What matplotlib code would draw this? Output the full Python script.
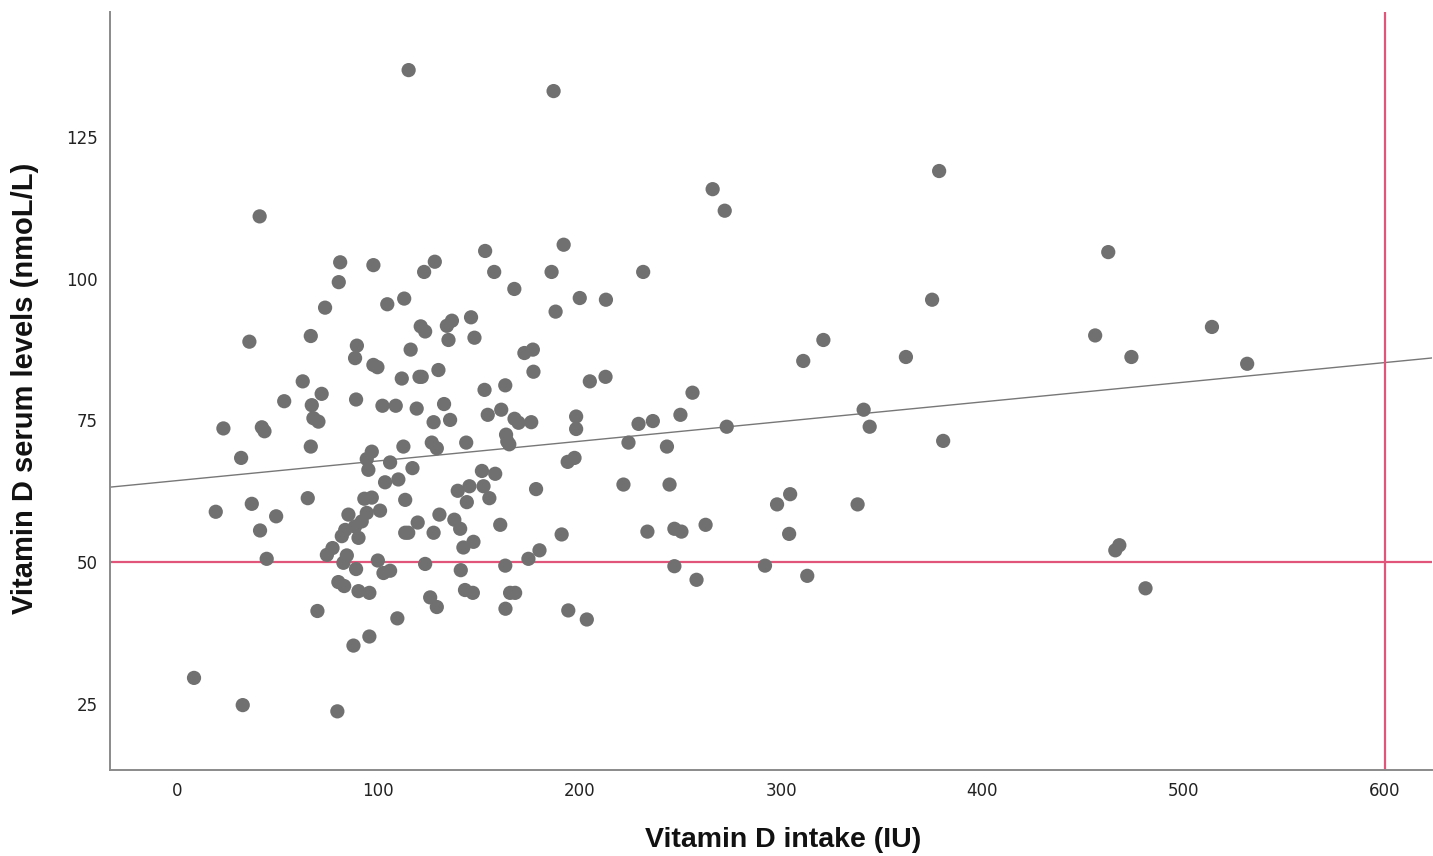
import matplotlib
matplotlib.use("Agg")
import matplotlib.pyplot as plt

# vitamin D intake (IU) vs serum level (nmol/L)
intake = [
    8.4, 32.6, 19.2, 23, 31.8, 35.9, 37.1, 41, 42.1, 43.4, 41.2, 44.5, 49.2, 53.2,
    62.4, 64.9, 66.4, 66.4, 66.9, 67.7, 70.2, 69.7, 71.8, 73.5, 74.4, 77.2,
    79.6, 80.3, 81, 80.1, 83, 81.8, 83.5, 84.3, 82.6, 85.1, 87.6, 88.4, 89.3,
    88.4, 88.9, 88.9, 90.1, 90.1, 91.7, 93, 94.2, 94.2, 95, 95.5, 95.5, 96.7,
    96.7, 97.5, 97.5, 99.5, 99.7,
    100.8, 102, 102.5, 103.3, 104.4, 105.8, 105.8, 108.6, 109.4, 109.9, 111.6,
    112.4, 112.8, 113.3, 113.3, 114.8, 115, 116, 116.9, 119, 119.5, 120.4,
    121.5, 121, 123.2, 122.7, 123.2, 125.7, 126.5, 127.4, 127.4, 128, 129,
    129, 129.8, 130.3,
    132.6, 134, 136.5, 134.8, 135.6, 137.7, 139.4, 140.6, 140.9, 142.2, 143,
    143.6, 143.9, 145.2, 146, 146.9, 147.2, 147.7, 151.4, 152.2, 152.7, 153,
    154.3, 155.1, 157.5, 158,
    160.5, 161, 163, 163, 163.1, 163.4, 164, 165, 165.4, 167.9, 167.5, 167.6,
    169.6, 172.5, 174.5, 175.9, 176.7, 177, 178.3, 180, 186, 187, 188, 191,
    192, 194, 194.3, 197.4, 198.2, 198.2,
    200, 203.5, 205, 212.8, 213, 221.7, 224.2, 229.2, 231.5, 233.6, 236.3,
    243.3, 244.6, 247, 250.5, 247, 250,
    256, 258, 262.5, 266, 272, 273, 292, 298,
    304, 304.5, 311, 313, 321, 338, 341, 344, 362, 375, 378.5, 380.5, 456,
    462.5, 466, 468, 474, 481, 514, 531.5,
]
serum = [
    29.6, 24.8, 58.9, 73.6, 68.4, 88.9, 60.3, 111, 73.8, 73.1, 55.6, 50.6, 58.1, 78.4,
    81.9, 61.3, 89.9, 70.4, 77.7, 75.4, 74.8, 41.4, 79.7, 94.9, 51.3, 52.5,
    23.7, 99.4, 102.9, 46.5, 45.8, 54.6, 55.7, 51.2, 49.9, 58.4, 35.3, 56.3, 88.2,
    86, 78.7, 48.8, 54.3, 44.9, 57.2, 61.2, 58.7, 68.2, 66.3, 44.6, 36.9, 61.4,
    69.5, 102.4, 84.8, 84.4, 50.3,
    59.1, 77.6, 48.1, 64.1, 95.5, 67.6, 48.5, 77.6, 40.1, 64.6, 82.4,
    70.4, 96.5, 61, 55.2, 55.2, 136.8, 87.5, 66.6, 77.1, 57, 82.7,
    82.7, 91.6, 90.7, 101.2, 49.7, 43.8, 71.1, 74.7, 55.2, 103, 70.1,
    42.1, 83.9, 58.4,
    77.9, 91.7, 92.6, 89.2, 75.1, 57.5, 62.6, 55.9, 48.6, 52.6, 45.1,
    71.1, 60.6, 63.4, 93.2, 44.6, 53.6, 89.6, 66.1, 63.4, 80.4, 104.9,
    76, 61.3, 101.2, 65.6,
    56.6, 76.9, 81.2, 49.4, 41.8, 72.5, 71.3, 70.8, 44.6, 44.6, 98.2, 75.3,
    74.6, 86.9, 50.6, 74.7, 87.5, 83.6, 62.9, 52.1, 101.2, 133.1, 94.2, 54.9,
    106, 67.7, 41.5, 68.4, 75.7, 73.5,
    96.6, 39.9, 81.9, 82.7, 96.3, 63.7, 71.1, 74.4, 101.2, 55.4, 74.9,
    70.4, 63.7, 55.9, 55.4, 49.3, 76,
    79.9, 46.9, 56.6, 115.8, 112, 73.9, 49.4, 60.2,
    55, 62, 85.5, 47.6, 89.2, 60.2, 76.9, 73.9, 86.2, 96.3, 119, 71.4, 90,
    104.7, 52.1, 53, 86.2, 45.4, 91.5, 85,
]

# fit line (as drawn in the original) and reference lines
fit_intercept = 64.4
fit_slope = 0.0347
ref_serum = 50
ref_intake = 600

fig = plt.figure(figsize=(14.33, 8.56), dpi=100)
ax = fig.add_axes([0.0768, 0.1005, 0.9225, 0.8855])

ax.scatter(intake, serum, s=105, color="#707070", edgecolors="none", zorder=3)
ax.axline((0, fit_intercept), slope=fit_slope, color="#777777", lw=1.0, zorder=2)
ax.axhline(ref_serum, color="#e2557a", lw=1.6, zorder=2)
ax.axvline(ref_intake, color="#e2557a", lw=1.6, zorder=2)

ax.set_xlim(-33.3, 623.3)
ax.set_ylim(13.36, 147.05)
ax.set_xticks([0, 100, 200, 300, 400, 500, 600])
ax.set_yticks([25, 50, 75, 100, 125])

for s in ["top", "right"]:
    ax.spines[s].set_visible(False)
for s in ["left", "bottom"]:
    ax.spines[s].set_color("#8a8a8a")
    ax.spines[s].set_linewidth(1.4)

ax.tick_params(length=0, labelsize=12, labelcolor="#222222", pad=9)

ax.set_xlabel("Vitamin D intake (IU)", family="Liberation Sans", fontweight="bold",
              fontsize=20.5, color="#111111")
ax.xaxis.set_label_coords(0.509, -0.0923)
ax.xaxis.label.set_va("center")

ax.set_ylabel("Vitamin D serum levels (nmoL/L)", family="Liberation Sans",
              fontweight="bold", fontsize=21, color="#111111")
ax.yaxis.set_label_coords(-0.0643, 0.503)
ax.yaxis.label.set_va("center")

fig.savefig("out.png", dpi=100)
